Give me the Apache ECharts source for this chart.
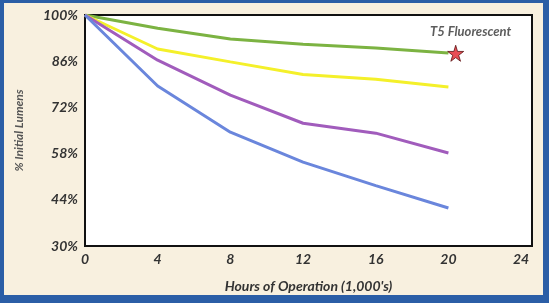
<!DOCTYPE html>
<html>
<head>
<meta charset="utf-8">
<script src="https://cdn.jsdelivr.net/npm/echarts@6/dist/echarts.min.js"></script>
<style>
  html, body { margin: 0; padding: 0; background: #2b5ea6; }
  #chart { width: 549px; height: 303px; }
</style>
</head>
<body>
<div id="chart"></div>
<script>
// hours of operation (1,000's)
var hours = [0, 4, 8, 12, 16, 20];
// % initial lumens per lamp curve
var green = [100, 96.0, 92.7, 91.1, 90.0, 88.5];
var yellow = [100, 89.7, 85.8, 82.0, 80.5, 78.2];
var purple = [100, 86.3, 75.7, 67.2, 64.2, 58.2];
var blue = [100, 78.5, 64.5, 55.4, 48.3, 41.5];
var starPoint = [20.4, 88.4];
var starLabel = 'T5 Fluorescent';

var font = 'Lato';
var starPath = 'path://M50,0 L61,35 L98,35 L68,57 L79,91 L50,70 L21,91 L32,57 L2,35 L39,35 Z';

function pairs(vals) {
  return hours.map(function (h, i) { return [h, vals[i]]; });
}

function line(vals, color) {
  return {
    type: 'line',
    data: pairs(vals),
    symbol: 'none',
    smooth: false,
    lineStyle: { color: color, width: 3 },
    z: 3
  };
}

var chart = echarts.init(document.getElementById('chart'));
chart.setOption({
  backgroundColor: '#2b5ea6',
  animation: false,
  graphic: [{
    type: 'rect',
    shape: { x: 4, y: 3, width: 539, height: 292 },
    style: { fill: '#f8f0df' },
    z: -10
  }],
  grid: {
    left: 85, right: 17, top: 15, bottom: 57,
    show: true,
    backgroundColor: '#ffffff',
    borderColor: '#111111',
    borderWidth: 2
  },
  xAxis: {
    type: 'value',
    min: 0,
    max: 24.6,
    interval: 4,
    name: "Hours of Operation (1,000's)",
    nameLocation: 'middle',
    nameGap: 33,
    nameTextStyle: { fontFamily: font, fontStyle: 'italic', fontWeight: 'bold', fontSize: 14, color: '#333' },
    axisLine: { show: true, lineStyle: { color: '#111', width: 2 } },
    axisTick: { show: false },
    splitLine: { show: false },
    axisLabel: {
      margin: 6,
      fontFamily: font, fontStyle: 'italic', fontWeight: 'bold', fontSize: 14, color: '#333',
      formatter: function (v) { return v % 4 === 0 ? String(v) : ''; }
    }
  },
  yAxis: {
    type: 'value',
    min: 30,
    max: 100,
    interval: 14,
    name: '% Initial Lumens',
    nameLocation: 'middle',
    nameRotate: 90,
    nameGap: 60,
    nameTextStyle: { fontFamily: font, fontStyle: 'italic', fontWeight: 'bold', fontSize: 12, color: '#555' },
    axisLine: { show: true, lineStyle: { color: '#111', width: 2 } },
    axisTick: { show: false },
    splitLine: { show: false },
    axisLabel: {
      margin: 7,
      fontFamily: font, fontStyle: 'italic', fontWeight: 'bold', fontSize: 14, color: '#333',
      formatter: '{value}%'
    }
  },
  series: [
    line(green, '#7cb342'),
    line(yellow, '#f4f02a'),
    line(purple, '#a15cbc'),
    line(blue, '#6a86dc'),
    {
      type: 'scatter',
      data: [starPoint],
      symbol: starPath,
      symbolSize: 16,
      itemStyle: { color: '#e3202a', borderColor: '#5a1010', borderWidth: 1 },
      label: {
        show: true,
        position: 'top',
        distance: 6,
        offset: [15, 0],
        formatter: starLabel,
        fontFamily: font, fontStyle: 'italic', fontWeight: 'bold', fontSize: 13, color: '#333'
      },
      z: 4
    }
  ]
});
</script>
</body>
</html>
